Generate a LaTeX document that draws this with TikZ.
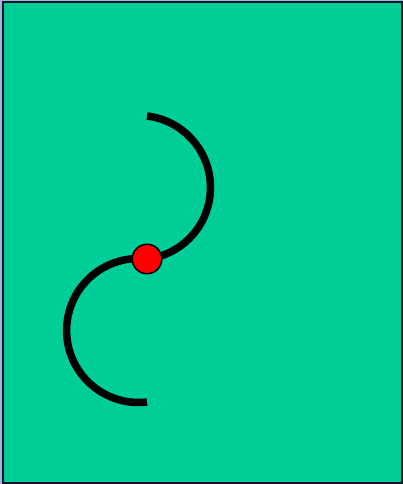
\documentclass[tikz,border=0pt]{standalone}
\usepackage{tikz}
\definecolor{bggreen}{RGB}{0,206,153}
\definecolor{outerblue}{RGB}{160,184,224}
\definecolor{framedark}{RGB}{20,20,40}
\tikzset{
  curve/.style={line width=7.5pt, line cap=butt, draw=black},
  pivot/.style={circle, fill=red, draw=black, line width=1.5pt, minimum size=29.5pt, inner sep=0pt}
}
\begin{document}
\begin{tikzpicture}[x=1pt,y=1pt]
\useasboundingbox (0,0) rectangle (403,484);
\fill[outerblue] (0,0) rectangle (403,484);
\draw[fill=bggreen, draw=framedark, line width=2pt] (2.5,1) rectangle (402,481.5);
\coordinate (top) at (147,368);
\coordinate (mid) at (147,225);
\coordinate (bot) at (147,81);
\draw[curve] (top) arc[start angle=83.2, end angle=-83.2, radius=72pt];
\draw[curve] (mid) arc[start angle=83.3, end angle=276.7, radius=72pt];
\node[pivot] (dot) at (mid) {};
\end{tikzpicture}
\end{document}
